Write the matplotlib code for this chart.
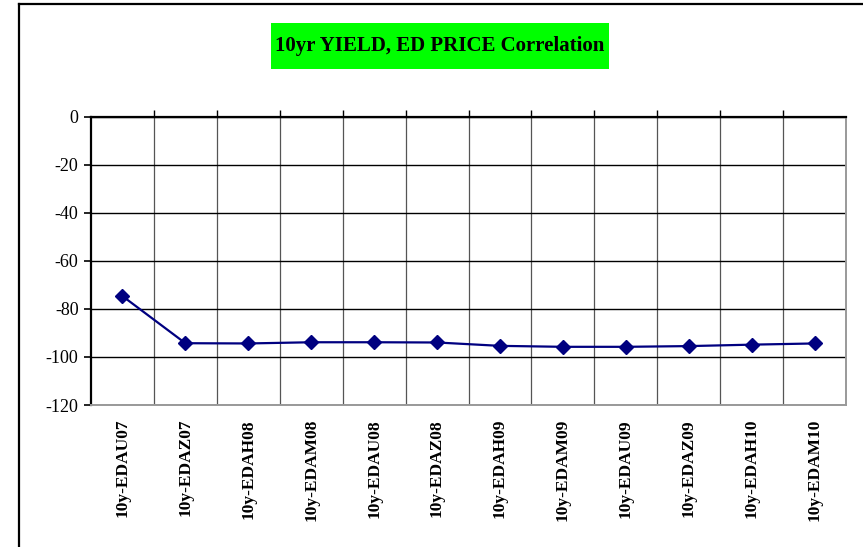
import matplotlib
matplotlib.use("Agg")
import matplotlib.pyplot as plt
from matplotlib.lines import Line2D
from matplotlib.patches import Rectangle
from matplotlib.ticker import FixedLocator, MultipleLocator
import numpy as np

categories = ["10y-EDAU07", "10y-EDAZ07", "10y-EDAH08", "10y-EDAM08", "10y-EDAU08",
              "10y-EDAZ08", "10y-EDAH09", "10y-EDAM09", "10y-EDAU09", "10y-EDAZ09",
              "10y-EDAH10", "10y-EDAM10"]
correlation = [-74.7, -94.3, -94.4, -93.9, -93.9, -94.0, -95.4, -95.8, -95.8, -95.5, -94.9, -94.4]
title = "10yr YIELD, ED PRICE Correlation"

W, H = 863, 547
fig = plt.figure(figsize=(W / 100, H / 100), dpi=100)
fig.patch.set_facecolor("white")

# outer chart border (left and top lines)
fig.add_artist(Line2D([19 / W, 19 / W], [0, 1 - 4 / H], transform=fig.transFigure,
                      color="black", lw=1.6))
fig.add_artist(Line2D([19 / W, 1], [1 - 4 / H, 1 - 4 / H], transform=fig.transFigure,
                      color="black", lw=1.6))

left, right, top, bottom = 91, 846, 116.5, 405
ax = fig.add_axes([left / W, 1 - bottom / H, (right - left) / W, (bottom - top) / H])

x = np.arange(len(categories))
ax.plot(x, correlation, color="#000080", lw=1.6, marker="D", markersize=7.5,
        markerfacecolor="#000080", markeredgecolor="#000080", zorder=5, clip_on=False)

ax.set_xlim(-0.5, len(categories) - 0.5)
ax.set_ylim(-120, 0)
ax.yaxis.set_major_locator(MultipleLocator(20))

ax.set_xticks(x)
ax.set_xticklabels(categories, rotation=90, fontsize=12.5, fontweight="bold",
                   family="Liberation Serif", va="top")
ax.xaxis.set_minor_locator(FixedLocator(np.arange(-0.5, len(categories), 1.0)[1:-1]))
ax.tick_params(axis="x", which="major", length=0, pad=10)
ax.tick_params(axis="x", which="minor", bottom=False, top=True, direction="out",
               length=5, width=1, color="black")
ax.grid(True, axis="x", which="minor", color="#555555", lw=0.9)
ax.grid(True, axis="y", which="major", color="black", lw=1.0)
ax.set_axisbelow(True)

ax.tick_params(axis="y", length=5, width=1.2, direction="out", pad=4)
ax.set_yticks([0, -20, -40, -60, -80, -100, -120])
ax.set_yticklabels(["0", "-20", "-40", "-60", "-80", "-100", "-120"],
                   family="Liberation Serif", fontsize=13)

ax.spines["left"].set_color("black")
ax.spines["left"].set_linewidth(1.6)
ax.spines["top"].set_color("black")
ax.spines["top"].set_linewidth(1.6)
ax.spines["right"].set_color("#999999")
ax.spines["right"].set_linewidth(1.4)
ax.spines["bottom"].set_color("#999999")
ax.spines["bottom"].set_linewidth(1.4)

# title box
fig.add_artist(Rectangle((271 / W, 1 - 69 / H), (609 - 271) / W, 46 / H,
                         transform=fig.transFigure, facecolor="#00FF00", edgecolor="none"))
fig.text(440 / W, 1 - 46 / H, title, ha="center", va="center", fontsize=15,
         fontweight="bold", family="Liberation Serif")

fig.savefig("out.png", dpi=100)
